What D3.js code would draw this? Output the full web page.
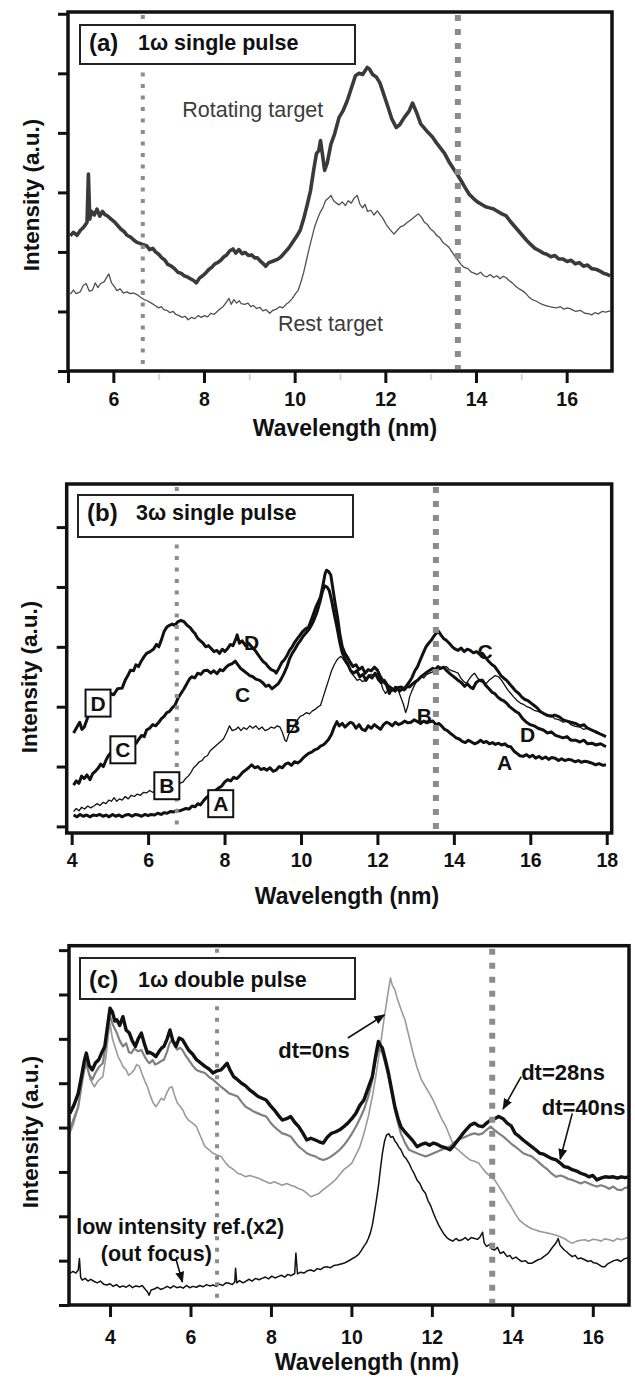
<!DOCTYPE html>
<html><head><meta charset="utf-8">
<script src="https://cdn.jsdelivr.net/npm/d3@7"></script>
<style>
body{margin:0;background:#fff}
svg{display:block}
text{font-family:"Liberation Sans",Arial,Helvetica,sans-serif}
</style></head>
<body><svg id="chart" width="635" height="1378"></svg>
<script>
// ---------- DATA: panel (a) 1ω single pulse ----------
const aXTicks = [5,6,8,10,12,14,16];
const aXMinor = [7,9,11,13,15];
const aYTicks = [0,1,2,3,4,5,6];
const aMarkers = [6.65, 13.6];
const rotatingTarget = [[5.05,2.27],[5.12,2.33],[5.2,2.28],[5.27,2.36],[5.35,2.42],[5.42,2.5],[5.45,3.31],[5.48,2.55],[5.52,2.68],[5.58,2.62],[5.64,2.72],[5.7,2.6],[5.76,2.68],[5.81,2.63],[5.88,2.6],[5.95,2.55],[6.03,2.5],[6.1,2.44],[6.17,2.38],[6.24,2.34],[6.3,2.28],[6.38,2.25],[6.45,2.2],[6.52,2.16],[6.6,2.14],[6.66,2.12],[6.74,2.1],[6.8,2.04],[6.87,2.06],[6.93,2.0],[7.0,1.96],[7.07,1.9],[7.14,1.86],[7.2,1.79],[7.28,1.76],[7.35,1.72],[7.42,1.66],[7.5,1.64],[7.56,1.6],[7.63,1.58],[7.7,1.55],[7.77,1.52],[7.83,1.48],[7.9,1.56],[7.97,1.6],[8.03,1.64],[8.1,1.7],[8.17,1.74],[8.24,1.8],[8.3,1.82],[8.37,1.86],[8.44,1.92],[8.5,1.95],[8.57,2.02],[8.64,2.05],[8.7,1.98],[8.77,2.04],[8.84,1.97],[8.91,1.99],[8.98,1.94],[9.05,1.95],[9.12,1.9],[9.18,1.9],[9.25,1.84],[9.31,1.8],[9.36,1.76],[9.43,1.82],[9.5,1.84],[9.57,1.86],[9.63,1.88],[9.7,1.92],[9.77,1.98],[9.84,2.04],[9.9,2.1],[9.97,2.18],[10.04,2.26],[10.12,2.36],[10.2,2.56],[10.28,2.8],[10.35,3.03],[10.42,3.38],[10.48,3.65],[10.53,3.7],[10.57,3.87],[10.62,3.6],[10.66,3.37],[10.72,3.5],[10.8,3.81],[10.88,3.98],[10.98,4.26],[11.06,4.36],[11.16,4.54],[11.25,4.75],[11.34,4.96],[11.42,5.0],[11.5,4.98],[11.56,5.05],[11.6,5.1],[11.65,5.07],[11.72,4.98],[11.8,4.94],[11.88,4.84],[11.96,4.66],[12.06,4.43],[12.14,4.24],[12.24,4.09],[12.32,4.14],[12.42,4.26],[12.52,4.36],[12.6,4.5],[12.68,4.36],[12.78,4.15],[12.86,4.08],[12.95,4.0],[13.04,3.93],[13.12,3.84],[13.2,3.76],[13.31,3.65],[13.4,3.52],[13.5,3.4],[13.58,3.31],[13.67,3.2],[13.76,3.08],[13.85,2.97],[13.94,2.9],[14.03,2.84],[14.12,2.8],[14.21,2.76],[14.3,2.74],[14.39,2.72],[14.48,2.68],[14.57,2.64],[14.66,2.61],[14.75,2.52],[14.84,2.44],[14.93,2.36],[15.02,2.28],[15.11,2.2],[15.2,2.13],[15.3,2.06],[15.4,2.02],[15.48,1.98],[15.56,1.96],[15.65,1.92],[15.74,1.94],[15.83,1.88],[15.92,1.88],[16.01,1.84],[16.1,1.86],[16.19,1.8],[16.28,1.82],[16.37,1.76],[16.46,1.78],[16.55,1.72],[16.64,1.71],[16.73,1.68],[16.82,1.64],[16.9,1.62],[16.96,1.6]];
const restTarget = [[5.05,1.29],[5.12,1.36],[5.18,1.3],[5.27,1.33],[5.34,1.44],[5.4,1.47],[5.47,1.34],[5.54,1.36],[5.6,1.48],[5.66,1.4],[5.72,1.47],[5.8,1.5],[5.86,1.58],[5.9,1.63],[5.96,1.48],[6.02,1.42],[6.08,1.35],[6.15,1.38],[6.22,1.31],[6.3,1.33],[6.37,1.3],[6.45,1.31],[6.53,1.28],[6.6,1.24],[6.68,1.2],[6.75,1.18],[6.84,1.14],[6.92,1.1],[7.0,1.06],[7.06,1.08],[7.11,1.03],[7.18,1.02],[7.25,0.98],[7.32,1.0],[7.38,0.95],[7.45,0.93],[7.52,0.9],[7.58,0.92],[7.65,0.86],[7.72,0.9],[7.8,0.88],[7.87,0.93],[7.94,0.9],[8.01,0.93],[8.08,0.91],[8.15,0.97],[8.22,0.95],[8.28,0.99],[8.35,1.04],[8.42,1.08],[8.5,1.16],[8.55,1.22],[8.6,1.12],[8.66,1.2],[8.72,1.14],[8.78,1.18],[8.82,1.13],[8.9,1.12],[8.97,1.14],[9.03,1.08],[9.09,1.1],[9.16,1.05],[9.23,1.07],[9.3,1.01],[9.37,1.03],[9.45,0.97],[9.52,1.02],[9.6,1.04],[9.67,1.08],[9.74,1.06],[9.81,1.12],[9.88,1.16],[9.95,1.22],[10.02,1.3],[10.08,1.36],[10.14,1.5],[10.2,1.66],[10.26,1.86],[10.32,2.06],[10.38,2.24],[10.44,2.42],[10.5,2.55],[10.56,2.66],[10.62,2.74],[10.68,2.86],[10.74,2.9],[10.8,2.95],[10.86,2.86],[10.92,2.82],[10.98,2.79],[11.05,2.84],[11.12,2.78],[11.18,2.86],[11.25,2.82],[11.31,2.9],[11.38,2.95],[11.44,2.8],[11.5,2.74],[11.55,2.8],[11.61,2.68],[11.68,2.7],[11.75,2.62],[11.82,2.69],[11.88,2.63],[11.95,2.56],[12.02,2.46],[12.1,2.38],[12.19,2.3],[12.26,2.36],[12.33,2.42],[12.4,2.44],[12.46,2.48],[12.53,2.52],[12.6,2.56],[12.66,2.6],[12.73,2.64],[12.8,2.58],[12.86,2.5],[12.93,2.46],[13.0,2.38],[13.06,2.35],[13.13,2.28],[13.2,2.24],[13.27,2.16],[13.34,2.12],[13.4,2.08],[13.47,2.0],[13.54,1.92],[13.6,1.86],[13.67,1.79],[13.74,1.74],[13.82,1.72],[13.9,1.66],[13.97,1.64],[14.03,1.62],[14.1,1.66],[14.17,1.6],[14.24,1.58],[14.31,1.62],[14.39,1.57],[14.46,1.6],[14.53,1.55],[14.6,1.59],[14.66,1.57],[14.73,1.52],[14.8,1.48],[14.88,1.42],[14.95,1.38],[15.02,1.35],[15.1,1.3],[15.17,1.24],[15.24,1.2],[15.31,1.18],[15.38,1.15],[15.46,1.12],[15.54,1.1],[15.62,1.08],[15.7,1.07],[15.78,1.06],[15.86,1.08],[15.94,1.04],[16.02,1.06],[16.1,1.04],[16.2,1.0],[16.3,1.02],[16.4,0.97],[16.5,0.96],[16.55,0.94],[16.62,0.98],[16.7,0.96],[16.78,1.0],[16.86,0.99],[16.96,1.01]];

// ---------- DATA: panel (b) 3ω single pulse ----------
const bXTicks = [4,6,8,10,12,14,16,18];
const bYTicks = [0,1,2,3,4,5];
const bMarkers = [6.75, 13.53];
const curveD = [[4.05,1.56],[4.12,1.64],[4.21,1.74],[4.27,1.62],[4.33,1.66],[4.42,1.82],[4.5,1.92],[4.6,1.98],[4.7,2.06],[4.8,2.1],[4.9,2.16],[5.01,2.22],[5.1,2.2],[5.2,2.3],[5.32,2.31],[5.4,2.44],[5.47,2.52],[5.54,2.61],[5.62,2.6],[5.68,2.7],[5.75,2.67],[5.82,2.76],[5.9,2.84],[5.96,2.89],[6.05,2.92],[6.14,2.96],[6.22,3.04],[6.28,3.0],[6.35,3.12],[6.42,3.26],[6.49,3.33],[6.56,3.36],[6.63,3.38],[6.7,3.36],[6.78,3.42],[6.86,3.44],[6.94,3.42],[7.02,3.36],[7.1,3.32],[7.17,3.26],[7.23,3.22],[7.3,3.14],[7.37,3.1],[7.44,3.06],[7.51,3.0],[7.58,3.02],[7.65,2.97],[7.72,2.92],[7.8,2.94],[7.87,2.89],[7.94,2.96],[8.01,2.92],[8.08,2.97],[8.15,3.04],[8.22,3.02],[8.29,3.12],[8.33,3.2],[8.39,3.06],[8.46,3.1],[8.55,3.02],[8.63,3.06],[8.71,3.0],[8.8,2.94],[8.92,2.83],[9.0,2.76],[9.08,2.72],[9.14,2.67],[9.22,2.62],[9.3,2.6],[9.35,2.56],[9.42,2.64],[9.5,2.74],[9.56,2.78],[9.64,2.86],[9.7,2.94],[9.77,3.0],[9.84,3.08],[9.91,3.14],[9.98,3.2],[10.05,3.26],[10.12,3.3],[10.2,3.33],[10.3,3.5],[10.4,3.68],[10.51,3.83],[10.58,4.05],[10.63,4.22],[10.67,4.28],[10.72,4.26],[10.78,4.2],[10.84,3.95],[10.9,3.7],[10.96,3.48],[11.02,3.2],[11.08,3.0],[11.15,2.89],[11.22,2.82],[11.29,2.74],[11.36,2.67],[11.44,2.7],[11.52,2.62],[11.6,2.66],[11.68,2.56],[11.76,2.62],[11.84,2.6],[11.92,2.66],[12.0,2.61],[12.08,2.5],[12.16,2.42],[12.24,2.36],[12.31,2.22],[12.38,2.3],[12.46,2.26],[12.55,2.32],[12.63,2.33],[12.7,2.28],[12.78,2.34],[12.84,2.33],[12.92,2.38],[13.0,2.42],[13.05,2.44],[13.14,2.5],[13.22,2.54],[13.3,2.58],[13.37,2.61],[13.45,2.64],[13.52,2.62],[13.58,2.67],[13.66,2.64],[13.73,2.66],[13.8,2.61],[13.88,2.56],[13.96,2.52],[14.04,2.48],[14.11,2.44],[14.2,2.4],[14.28,2.34],[14.36,2.38],[14.43,2.33],[14.5,2.3],[14.58,2.4],[14.66,2.44],[14.75,2.44],[14.83,2.36],[14.92,2.3],[15.0,2.24],[15.07,2.22],[15.15,2.16],[15.23,2.12],[15.3,2.1],[15.38,2.06],[15.46,2.0],[15.54,1.96],[15.62,1.92],[15.7,1.89],[15.8,1.8],[15.9,1.74],[16.0,1.7],[16.1,1.68],[16.2,1.64],[16.34,1.61],[16.45,1.56],[16.55,1.58],[16.66,1.52],[16.76,1.5],[16.86,1.48],[16.96,1.5],[17.06,1.44],[17.18,1.44],[17.3,1.41],[17.4,1.44],[17.5,1.38],[17.61,1.39],[17.72,1.36],[17.84,1.38],[17.98,1.33]];
const curveC = [[4.05,0.69],[4.12,0.76],[4.19,0.72],[4.26,0.84],[4.33,0.8],[4.4,0.86],[4.48,0.78],[4.55,0.88],[4.62,0.92],[4.69,0.97],[4.76,1.04],[4.83,1.0],[4.9,1.11],[4.96,1.18],[5.01,1.22],[5.1,1.26],[5.2,1.3],[5.3,1.28],[5.4,1.34],[5.5,1.36],[5.6,1.36],[5.69,1.39],[5.76,1.46],[5.83,1.52],[5.9,1.5],[5.96,1.61],[6.04,1.64],[6.12,1.7],[6.2,1.68],[6.28,1.74],[6.35,1.8],[6.42,1.84],[6.49,1.9],[6.56,1.92],[6.63,1.98],[6.7,2.02],[6.78,2.14],[6.86,2.22],[6.94,2.3],[7.02,2.39],[7.08,2.46],[7.14,2.5],[7.22,2.48],[7.3,2.56],[7.38,2.54],[7.46,2.6],[7.55,2.61],[7.64,2.56],[7.72,2.6],[7.8,2.55],[7.88,2.62],[7.96,2.6],[8.04,2.66],[8.12,2.7],[8.2,2.72],[8.28,2.76],[8.35,2.7],[8.42,2.64],[8.5,2.6],[8.58,2.56],[8.66,2.52],[8.74,2.5],[8.82,2.46],[8.92,2.44],[9.0,2.4],[9.08,2.34],[9.16,2.36],[9.24,2.3],[9.32,2.34],[9.4,2.38],[9.48,2.46],[9.56,2.56],[9.64,2.68],[9.7,2.8],[9.77,2.89],[9.84,2.96],[9.91,3.04],[9.98,3.1],[10.06,3.18],[10.14,3.24],[10.22,3.3],[10.32,3.42],[10.42,3.58],[10.5,3.76],[10.56,3.92],[10.62,4.02],[10.68,4.0],[10.74,3.94],[10.8,3.78],[10.86,3.58],[10.94,3.33],[11.02,3.06],[11.08,2.9],[11.15,2.8],[11.22,2.72],[11.3,2.6],[11.38,2.56],[11.46,2.6],[11.54,2.5],[11.62,2.54],[11.7,2.44],[11.78,2.52],[11.86,2.48],[11.94,2.56],[12.02,2.46],[12.1,2.4],[12.18,2.44],[12.26,2.36],[12.34,2.32],[12.42,2.28],[12.5,2.32],[12.58,2.26],[12.66,2.3],[12.74,2.33],[12.82,2.4],[12.9,2.48],[12.98,2.6],[13.05,2.67],[13.12,2.78],[13.2,2.9],[13.27,3.0],[13.34,3.06],[13.42,3.12],[13.48,3.18],[13.53,3.22],[13.6,3.26],[13.66,3.2],[13.73,3.14],[13.8,3.11],[13.88,3.06],[13.96,3.0],[14.04,2.96],[14.11,2.94],[14.19,2.98],[14.27,2.92],[14.35,2.96],[14.43,2.94],[14.51,2.9],[14.59,2.92],[14.67,2.88],[14.75,2.89],[14.83,2.82],[14.91,2.76],[15.0,2.7],[15.07,2.67],[15.15,2.6],[15.23,2.52],[15.3,2.48],[15.38,2.44],[15.46,2.38],[15.54,2.32],[15.62,2.26],[15.7,2.22],[15.78,2.16],[15.86,2.12],[15.94,2.1],[16.02,2.06],[16.1,2.02],[16.18,1.98],[16.26,1.92],[16.34,1.89],[16.44,1.86],[16.54,1.84],[16.64,1.86],[16.76,1.83],[16.86,1.78],[16.96,1.76],[17.06,1.74],[17.18,1.72],[17.3,1.68],[17.4,1.7],[17.5,1.64],[17.61,1.61],[17.72,1.58],[17.84,1.54],[17.98,1.5]];
const curveB = [[4.05,0.25],[4.12,0.3],[4.19,0.26],[4.26,0.32],[4.34,0.29],[4.42,0.34],[4.5,0.31],[4.58,0.34],[4.66,0.38],[4.74,0.35],[4.82,0.4],[4.9,0.38],[4.97,0.44],[5.04,0.42],[5.11,0.48],[5.18,0.42],[5.25,0.46],[5.32,0.44],[5.4,0.5],[5.48,0.46],[5.56,0.52],[5.64,0.5],[5.72,0.54],[5.8,0.52],[5.88,0.57],[5.96,0.56],[6.04,0.6],[6.12,0.57],[6.22,0.6],[6.32,0.62],[6.42,0.64],[6.52,0.66],[6.62,0.68],[6.72,0.7],[6.82,0.72],[6.91,0.74],[6.98,0.8],[7.05,0.84],[7.12,0.9],[7.19,0.98],[7.26,1.02],[7.34,1.08],[7.41,1.1],[7.48,1.16],[7.55,1.18],[7.62,1.26],[7.69,1.3],[7.76,1.34],[7.83,1.38],[7.9,1.42],[7.97,1.46],[8.05,1.56],[8.13,1.68],[8.2,1.6],[8.29,1.62],[8.36,1.66],[8.43,1.6],[8.5,1.65],[8.58,1.62],[8.66,1.68],[8.74,1.64],[8.82,1.68],[8.9,1.62],[8.98,1.66],[9.06,1.6],[9.14,1.62],[9.22,1.66],[9.3,1.64],[9.38,1.68],[9.45,1.66],[9.52,1.56],[9.58,1.44],[9.62,1.42],[9.68,1.54],[9.77,1.62],[9.84,1.7],[9.91,1.78],[9.98,1.84],[10.06,1.86],[10.14,1.9],[10.22,1.88],[10.3,1.93],[10.38,1.96],[10.45,2.0],[10.51,2.02],[10.58,2.16],[10.65,2.3],[10.72,2.44],[10.8,2.6],[10.87,2.7],[10.94,2.78],[11.0,2.82],[11.04,2.84],[11.1,2.8],[11.18,2.72],[11.25,2.66],[11.32,2.56],[11.4,2.5],[11.47,2.44],[11.54,2.46],[11.61,2.42],[11.68,2.44],[11.76,2.5],[11.84,2.54],[11.92,2.52],[12.0,2.56],[12.07,2.46],[12.14,2.3],[12.21,2.22],[12.3,2.3],[12.38,2.26],[12.46,2.34],[12.52,2.32],[12.6,2.18],[12.68,2.04],[12.74,1.9],[12.8,2.02],[12.84,2.16],[12.9,2.26],[12.97,2.36],[13.05,2.44],[13.13,2.5],[13.21,2.48],[13.29,2.54],[13.37,2.56],[13.45,2.58],[13.52,2.62],[13.58,2.6],[13.66,2.64],[13.73,2.66],[13.8,2.67],[13.88,2.62],[13.96,2.6],[14.04,2.58],[14.11,2.56],[14.18,2.48],[14.26,2.42],[14.33,2.39],[14.4,2.46],[14.47,2.52],[14.54,2.56],[14.62,2.48],[14.7,2.42],[14.78,2.4],[14.85,2.39],[14.92,2.44],[15.0,2.48],[15.08,2.52],[15.17,2.5],[15.25,2.44],[15.33,2.36],[15.41,2.28],[15.49,2.22],[15.57,2.16],[15.66,2.1],[15.74,2.06],[15.82,2.04],[15.91,2.0],[16.0,1.98],[16.1,1.94],[16.2,1.92],[16.34,1.89],[16.44,1.84],[16.54,1.86],[16.64,1.8],[16.76,1.78],[16.86,1.74],[16.96,1.76],[17.06,1.7],[17.18,1.67],[17.3,1.66],[17.4,1.62],[17.5,1.64],[17.61,1.61],[17.72,1.56],[17.84,1.54],[17.98,1.5]];
const curveA = [[4.05,0.19],[4.14,0.16],[4.22,0.2],[4.3,0.17],[4.39,0.19],[4.48,0.16],[4.56,0.19],[4.65,0.18],[4.73,0.2],[4.82,0.17],[4.9,0.19],[4.98,0.16],[5.07,0.2],[5.15,0.17],[5.24,0.19],[5.32,0.16],[5.41,0.19],[5.49,0.2],[5.58,0.17],[5.66,0.2],[5.75,0.19],[5.83,0.17],[5.92,0.2],[6.0,0.18],[6.08,0.2],[6.17,0.19],[6.25,0.22],[6.34,0.2],[6.42,0.23],[6.5,0.22],[6.59,0.25],[6.67,0.24],[6.75,0.27],[6.83,0.26],[6.91,0.28],[6.99,0.3],[7.07,0.29],[7.15,0.34],[7.23,0.33],[7.3,0.38],[7.37,0.36],[7.44,0.42],[7.52,0.48],[7.6,0.52],[7.68,0.56],[7.76,0.6],[7.84,0.64],[7.92,0.67],[8.0,0.74],[8.08,0.78],[8.16,0.76],[8.24,0.82],[8.32,0.8],[8.39,0.84],[8.47,0.9],[8.55,0.94],[8.63,0.98],[8.71,1.03],[8.79,0.98],[8.87,1.0],[8.95,0.95],[9.03,0.97],[9.11,0.94],[9.19,0.98],[9.27,0.92],[9.35,0.94],[9.43,1.0],[9.51,0.98],[9.59,1.04],[9.67,1.06],[9.75,1.02],[9.83,1.08],[9.91,1.06],[9.98,1.09],[10.05,1.14],[10.12,1.18],[10.2,1.22],[10.28,1.24],[10.36,1.28],[10.44,1.3],[10.51,1.34],[10.58,1.36],[10.65,1.4],[10.72,1.45],[10.8,1.54],[10.87,1.66],[10.94,1.75],[11.0,1.68],[11.08,1.72],[11.15,1.66],[11.22,1.7],[11.29,1.74],[11.36,1.72],[11.44,1.64],[11.52,1.7],[11.6,1.62],[11.68,1.6],[11.76,1.68],[11.84,1.64],[11.92,1.7],[12.0,1.66],[12.08,1.62],[12.16,1.7],[12.24,1.74],[12.31,1.72],[12.39,1.68],[12.47,1.74],[12.55,1.7],[12.63,1.72],[12.71,1.76],[12.8,1.73],[12.88,1.74],[12.96,1.78],[13.05,1.75],[13.13,1.72],[13.21,1.76],[13.29,1.73],[13.37,1.75],[13.45,1.76],[13.53,1.7],[13.61,1.72],[13.69,1.67],[13.76,1.62],[13.83,1.6],[13.9,1.56],[13.98,1.52],[14.06,1.48],[14.14,1.46],[14.22,1.42],[14.3,1.4],[14.38,1.44],[14.46,1.41],[14.54,1.38],[14.62,1.4],[14.7,1.44],[14.78,1.4],[14.85,1.42],[14.93,1.38],[15.01,1.4],[15.09,1.37],[15.17,1.39],[15.25,1.36],[15.33,1.38],[15.41,1.34],[15.49,1.33],[15.57,1.26],[15.65,1.22],[15.73,1.18],[15.81,1.17],[15.9,1.2],[15.98,1.16],[16.06,1.19],[16.14,1.14],[16.23,1.17],[16.31,1.13],[16.4,1.16],[16.48,1.12],[16.56,1.15],[16.65,1.14],[16.74,1.1],[16.82,1.13],[16.9,1.1],[17.0,1.12],[17.08,1.11],[17.17,1.08],[17.26,1.1],[17.34,1.07],[17.42,1.09],[17.5,1.08],[17.6,1.06],[17.71,1.03],[17.8,1.05],[17.9,1.02],[17.98,1.03]];
// label letters: [text, x, y, boxed]
const bLabels = [["D",4.69,2.06,true],["C",5.34,1.28,true],["B",6.49,0.68,true],["A",7.9,0.38,true],["D",8.71,3.08,false],["C",8.47,2.21,false],["B",9.79,1.68,false],["C",14.82,2.92,false],["B",13.23,1.85,false],["D",15.93,1.54,false],["A",15.33,1.07,false]];

// ---------- DATA: panel (c) 1ω double pulse ----------
const cXTicks = [4,6,8,10,12,14,16];
const cYTicks = [0,1,2,3,4,5,6,7,8];
const cMarkers = [6.66, 13.5];
const dt28 = [[3.0,4.32],[3.1,4.5],[3.21,4.77],[3.3,5.2],[3.36,5.5],[3.41,5.68],[3.48,5.4],[3.56,5.3],[3.64,5.46],[3.72,5.53],[3.8,5.7],[3.87,5.83],[3.94,6.3],[4.0,6.69],[4.06,6.6],[4.12,6.4],[4.17,6.43],[4.24,6.3],[4.32,6.5],[4.4,6.2],[4.48,6.13],[4.55,5.96],[4.63,5.83],[4.7,6.0],[4.78,6.13],[4.85,5.9],[4.93,5.68],[4.98,5.7],[5.06,5.66],[5.14,5.6],[5.22,5.72],[5.29,5.8],[5.34,5.83],[5.42,6.0],[5.49,6.2],[5.56,5.96],[5.64,5.83],[5.72,6.02],[5.8,5.98],[5.88,5.86],[5.95,5.75],[6.05,5.66],[6.15,5.53],[6.25,5.46],[6.36,5.38],[6.46,5.32],[6.56,5.23],[6.66,5.28],[6.76,5.3],[6.84,5.38],[6.91,5.45],[6.98,5.3],[7.07,5.15],[7.17,5.08],[7.27,5.0],[7.37,4.94],[7.47,4.85],[7.57,4.78],[7.68,4.7],[7.78,4.66],[7.88,4.62],[7.98,4.5],[8.08,4.4],[8.18,4.28],[8.28,4.17],[8.39,4.2],[8.49,4.25],[8.59,4.12],[8.69,4.02],[8.79,3.88],[8.89,3.72],[8.99,3.76],[9.1,3.72],[9.2,3.68],[9.3,3.65],[9.4,3.78],[9.5,3.87],[9.6,3.9],[9.71,3.95],[9.81,4.02],[9.91,4.1],[10.01,4.2],[10.11,4.32],[10.21,4.5],[10.31,4.62],[10.42,4.9],[10.52,5.15],[10.6,5.6],[10.67,5.94],[10.72,5.86],[10.77,5.79],[10.85,5.5],[10.92,5.23],[11.0,4.85],[11.08,4.47],[11.16,4.2],[11.23,4.02],[11.33,3.9],[11.43,3.8],[11.53,3.7],[11.63,3.57],[11.74,3.62],[11.84,3.65],[11.94,3.6],[12.04,3.65],[12.14,3.62],[12.24,3.57],[12.35,3.54],[12.45,3.5],[12.55,3.6],[12.65,3.72],[12.75,3.84],[12.85,3.95],[12.95,4.05],[13.06,4.1],[13.16,4.04],[13.26,4.02],[13.36,4.1],[13.46,4.17],[13.56,4.2],[13.66,4.25],[13.77,4.2],[13.87,4.1],[13.97,4.04],[14.07,3.87],[14.17,3.8],[14.27,3.72],[14.38,3.64],[14.48,3.57],[14.58,3.5],[14.68,3.42],[14.78,3.4],[14.88,3.35],[14.98,3.3],[15.09,3.27],[15.19,3.2],[15.29,3.12],[15.39,3.1],[15.49,3.05],[15.6,3.02],[15.7,2.97],[15.8,2.94],[15.9,2.89],[16.0,2.92],[16.1,2.82],[16.2,2.86],[16.3,2.89],[16.41,2.88],[16.51,2.89],[16.61,2.86],[16.71,2.89],[16.8,2.87],[16.9,2.89]];
const dt40 = [[3.0,3.95],[3.1,4.2],[3.21,4.47],[3.3,5.0],[3.36,5.3],[3.41,5.45],[3.48,5.2],[3.56,5.08],[3.64,5.24],[3.72,5.36],[3.82,5.45],[3.9,5.9],[3.95,6.3],[4.0,6.5],[4.08,6.3],[4.17,6.13],[4.24,5.96],[4.32,5.83],[4.4,5.9],[4.47,5.7],[4.53,5.68],[4.6,5.78],[4.7,5.72],[4.78,5.75],[4.86,5.6],[4.93,5.5],[4.98,5.45],[5.06,5.52],[5.12,5.42],[5.19,5.45],[5.27,5.5],[5.34,5.53],[5.42,5.72],[5.48,5.9],[5.54,5.98],[5.6,5.85],[5.67,5.76],[5.74,5.8],[5.8,5.75],[5.88,5.62],[5.95,5.53],[6.05,5.4],[6.15,5.3],[6.25,5.26],[6.36,5.23],[6.46,5.14],[6.56,5.08],[6.66,5.0],[6.76,4.92],[6.86,4.85],[6.96,4.77],[7.06,4.74],[7.17,4.7],[7.27,4.58],[7.37,4.47],[7.47,4.42],[7.57,4.36],[7.68,4.32],[7.78,4.28],[7.88,4.25],[7.98,4.12],[8.08,4.02],[8.18,3.94],[8.28,3.87],[8.39,3.84],[8.49,3.8],[8.59,3.68],[8.69,3.57],[8.79,3.5],[8.89,3.42],[8.99,3.38],[9.1,3.35],[9.2,3.3],[9.3,3.27],[9.4,3.3],[9.5,3.35],[9.6,3.42],[9.71,3.5],[9.81,3.6],[9.91,3.72],[10.01,3.86],[10.11,4.02],[10.21,4.2],[10.31,4.4],[10.42,4.7],[10.52,5.08],[10.6,5.5],[10.67,5.79],[10.72,5.74],[10.77,5.68],[10.85,5.42],[10.92,5.15],[11.0,4.78],[11.08,4.4],[11.16,4.1],[11.23,3.87],[11.33,3.66],[11.43,3.5],[11.53,3.46],[11.63,3.42],[11.74,3.38],[11.84,3.35],[11.94,3.38],[12.04,3.42],[12.14,3.46],[12.24,3.5],[12.35,3.54],[12.45,3.57],[12.55,3.66],[12.65,3.72],[12.75,3.76],[12.85,3.8],[12.95,3.84],[13.06,3.87],[13.16,3.84],[13.26,3.87],[13.36,3.95],[13.46,4.02],[13.56,3.94],[13.66,3.87],[13.77,3.8],[13.87,3.72],[13.97,3.64],[14.07,3.57],[14.17,3.5],[14.27,3.42],[14.38,3.38],[14.48,3.35],[14.58,3.28],[14.68,3.2],[14.78,3.12],[14.88,3.05],[14.98,2.96],[15.09,2.89],[15.19,2.92],[15.29,2.89],[15.39,2.84],[15.49,2.82],[15.6,2.78],[15.7,2.74],[15.8,2.78],[15.9,2.74],[16.0,2.7],[16.1,2.67],[16.2,2.7],[16.3,2.67],[16.41,2.62],[16.51,2.67],[16.61,2.6],[16.71,2.59],[16.8,2.64],[16.9,2.66]];
const dt0 = [[3.0,3.87],[3.1,4.1],[3.21,4.47],[3.3,5.1],[3.36,5.4],[3.41,5.53],[3.5,5.1],[3.61,4.92],[3.7,5.05],[3.82,5.15],[3.9,5.6],[3.96,6.1],[4.0,6.35],[4.06,6.0],[4.12,5.83],[4.2,5.6],[4.26,5.5],[4.32,5.38],[4.4,5.3],[4.46,5.18],[4.53,5.23],[4.6,5.3],[4.66,5.42],[4.73,5.38],[4.8,5.2],[4.86,5.06],[4.93,4.92],[5.0,4.72],[5.07,4.56],[5.14,4.47],[5.2,4.55],[5.27,4.66],[5.34,4.62],[5.42,4.8],[5.48,4.9],[5.54,4.92],[5.6,4.74],[5.67,4.56],[5.75,4.47],[5.82,4.38],[5.88,4.25],[5.95,4.17],[6.05,4.1],[6.15,4.02],[6.25,3.8],[6.36,3.57],[6.46,3.5],[6.56,3.42],[6.66,3.38],[6.76,3.35],[6.86,3.22],[6.96,3.12],[7.06,3.06],[7.17,2.97],[7.27,2.94],[7.37,2.89],[7.47,2.92],[7.57,2.89],[7.68,2.86],[7.78,2.82],[7.88,2.78],[7.98,2.74],[8.08,2.78],[8.18,2.74],[8.28,2.7],[8.39,2.74],[8.49,2.7],[8.59,2.67],[8.69,2.62],[8.79,2.59],[8.89,2.52],[8.99,2.44],[9.1,2.48],[9.2,2.52],[9.3,2.6],[9.4,2.67],[9.5,2.74],[9.6,2.82],[9.71,2.94],[9.81,3.05],[9.91,3.12],[10.01,3.2],[10.11,3.38],[10.21,3.57],[10.31,3.86],[10.42,4.25],[10.52,4.7],[10.62,5.23],[10.72,5.86],[10.82,6.5],[10.9,6.98],[10.97,7.37],[11.02,7.2],[11.08,7.11],[11.13,6.94],[11.18,6.8],[11.25,6.62],[11.33,6.43],[11.43,6.06],[11.53,5.68],[11.63,5.36],[11.74,5.08],[11.84,4.92],[11.94,4.77],[12.04,4.6],[12.14,4.4],[12.24,4.2],[12.35,4.02],[12.45,3.8],[12.55,3.57],[12.65,3.5],[12.75,3.42],[12.85,3.34],[12.95,3.27],[13.06,3.24],[13.16,3.2],[13.26,3.08],[13.36,2.97],[13.46,2.9],[13.56,2.82],[13.66,2.68],[13.77,2.52],[13.87,2.36],[13.97,2.22],[14.07,2.06],[14.17,1.92],[14.27,1.84],[14.38,1.77],[14.48,1.72],[14.58,1.69],[14.68,1.66],[14.78,1.64],[14.88,1.62],[14.98,1.6],[15.09,1.57],[15.19,1.54],[15.29,1.5],[15.39,1.44],[15.49,1.39],[15.6,1.44],[15.7,1.46],[15.8,1.47],[15.9,1.44],[16.0,1.48],[16.1,1.47],[16.2,1.44],[16.3,1.49],[16.41,1.47],[16.51,1.44],[16.61,1.5],[16.71,1.47],[16.8,1.5],[16.9,1.54]];
const lowRef = [[3.0,0.71],[3.08,0.76],[3.15,0.72],[3.21,0.79],[3.24,1.05],[3.27,0.62],[3.31,0.56],[3.38,0.6],[3.45,0.54],[3.52,0.58],[3.61,0.53],[3.68,0.5],[3.76,0.54],[3.84,0.47],[3.92,0.45],[4.0,0.48],[4.08,0.42],[4.16,0.46],[4.24,0.4],[4.32,0.43],[4.4,0.4],[4.48,0.45],[4.56,0.39],[4.64,0.43],[4.73,0.41],[4.8,0.44],[4.87,0.36],[4.93,0.3],[4.97,0.22],[5.02,0.34],[5.1,0.36],[5.18,0.4],[5.26,0.35],[5.34,0.38],[5.42,0.42],[5.5,0.38],[5.58,0.43],[5.66,0.39],[5.75,0.41],[5.82,0.38],[5.9,0.44],[5.98,0.39],[6.06,0.42],[6.15,0.4],[6.23,0.44],[6.31,0.41],[6.4,0.46],[6.48,0.43],[6.56,0.45],[6.64,0.42],[6.72,0.47],[6.8,0.44],[6.88,0.5],[6.96,0.49],[7.04,0.46],[7.1,0.52],[7.12,0.83],[7.15,0.5],[7.22,0.55],[7.3,0.5],[7.37,0.53],[7.45,0.58],[7.53,0.54],[7.62,0.6],[7.7,0.57],[7.78,0.6],[7.86,0.63],[7.94,0.59],[8.02,0.65],[8.1,0.61],[8.18,0.64],[8.26,0.67],[8.34,0.63],[8.42,0.69],[8.5,0.66],[8.59,0.71],[8.62,1.17],[8.66,0.7],[8.74,0.74],[8.82,0.72],[8.9,0.77],[8.99,0.79],[9.07,0.76],[9.15,0.82],[9.23,0.8],[9.31,0.85],[9.4,0.86],[9.48,0.84],[9.56,0.89],[9.64,0.9],[9.72,0.92],[9.81,0.94],[9.9,0.98],[9.98,1.02],[10.05,1.06],[10.11,1.09],[10.18,1.14],[10.24,1.22],[10.31,1.32],[10.37,1.4],[10.42,1.5],[10.47,1.62],[10.52,1.8],[10.57,2.07],[10.62,2.36],[10.67,2.67],[10.72,3.06],[10.77,3.42],[10.82,3.68],[10.87,3.83],[10.93,3.86],[10.98,3.78],[11.03,3.8],[11.08,3.7],[11.13,3.64],[11.18,3.56],[11.23,3.5],[11.3,3.36],[11.36,3.3],[11.43,3.2],[11.5,3.06],[11.56,2.96],[11.63,2.82],[11.7,2.74],[11.77,2.6],[11.84,2.52],[11.9,2.36],[11.97,2.24],[12.04,2.07],[12.1,1.94],[12.17,1.8],[12.24,1.69],[12.3,1.6],[12.37,1.52],[12.45,1.47],[12.52,1.44],[12.6,1.5],[12.67,1.45],[12.75,1.47],[12.83,1.52],[12.9,1.46],[12.98,1.52],[13.06,1.5],[13.14,1.48],[13.2,1.54],[13.26,1.64],[13.3,1.4],[13.36,1.32],[13.43,1.36],[13.49,1.26],[13.56,1.24],[13.63,1.3],[13.7,1.16],[13.78,1.2],[13.87,1.09],[13.94,1.12],[14.0,1.04],[14.09,1.08],[14.17,1.02],[14.24,0.98],[14.32,1.0],[14.4,0.94],[14.48,0.94],[14.56,0.98],[14.64,1.02],[14.71,1.04],[14.78,1.09],[14.86,1.14],[14.92,1.2],[14.98,1.28],[15.05,1.36],[15.1,1.42],[15.14,1.5],[15.18,1.36],[15.23,1.3],[15.29,1.24],[15.35,1.2],[15.42,1.14],[15.49,1.09],[15.56,1.12],[15.63,1.04],[15.7,1.06],[15.8,1.02],[15.88,0.98],[15.95,1.0],[16.02,0.95],[16.1,0.94],[16.17,0.9],[16.24,0.86],[16.3,0.86],[16.36,0.92],[16.44,0.96],[16.52,1.0],[16.61,1.02],[16.7,0.98],[16.78,1.04],[16.86,1.06],[16.9,1.09]];
// annotations: [text, x, y]  and arrows: [x1,y1,x2,y2]
const cTexts = [["dt=0ns",8.18,5.75],["dt=28ns",14.22,5.26],["dt=40ns",14.73,4.47],["low intensity ref.(x2)",3.16,1.77],["(out focus)",3.77,1.17]];
const cArrows = [[9.91,6.02,10.82,6.54],[14.22,5.15,13.77,4.42],[15.49,4.32,15.19,3.29],[5.64,1.03,5.8,0.52]];

// ---------- DRAWING ----------
const svg = d3.select('#chart');
const defs = svg.append('defs');
defs.append('marker').attr('id','arrowhead').attr('viewBox','0 0 10 10').attr('refX',9).attr('refY',5)
  .attr('markerWidth',7).attr('markerHeight',7).attr('orient','auto-start-reverse')
  .append('path').attr('d','M0,1 L10,5 L0,9 Z').attr('fill','#111');

function drawPanel(cfg){
  const x = d3.scaleLinear().domain(cfg.xDomain).range([cfg.l, cfg.r]);
  const y = d3.scaleLinear().domain(cfg.yDomain).range([cfg.b, cfg.t]);
  const g = svg.append('g');
  const clipId = 'clip-' + cfg.id;
  defs.append('clipPath').attr('id', clipId).append('rect')
    .attr('x', cfg.l).attr('y', cfg.t).attr('width', cfg.r - cfg.l).attr('height', cfg.b - cfg.t);

  const line = d3.line().x(d => x(d[0])).y(d => y(d[1]));
  cfg.series.forEach(s => {
    g.append('path').attr('d', line(s.data)).attr('fill','none')
      .attr('stroke', s.color).attr('stroke-width', s.width)
      .attr('stroke-linejoin','round').attr('clip-path', `url(#${clipId})`);
  });

  // dotted reference lines
  cfg.markers.forEach((m, i) => {
    const st = i === 0 ? {w:4, dash:'4,7.5'} : {w:6, dash:'6,8'};
    g.append('line').attr('x1', x(m)).attr('x2', x(m)).attr('y1', cfg.t + 3).attr('y2', cfg.b - 2)
      .attr('stroke','#8c8c8c').attr('stroke-width', st.w).attr('stroke-dasharray', st.dash);
  });

  // arrows
  (cfg.arrows || []).forEach(a => {
    g.append('line').attr('x1', x(a[0])).attr('y1', y(a[1])).attr('x2', x(a[2])).attr('y2', y(a[3]))
      .attr('stroke','#111').attr('stroke-width',1.6).attr('marker-end','url(#arrowhead)');
  });

  // text annotations
  (cfg.texts || []).forEach(t => {
    g.append('text').attr('x', x(t[1])).attr('y', y(t[2])).attr('dy','0.36em')
      .attr('font-size', t[0].length > 10 ? 21.5 : 22).attr('font-weight', cfg.textWeight || 'bold')
      .attr('fill', cfg.textColor || '#111').text(t[0]);
  });

  // letter labels (panel b)
  (cfg.letters || []).forEach(t => {
    const cx = x(t[1]), cy = y(t[2]);
    if (t[3]) {
      g.append('rect').attr('x', cx - 12.5).attr('y', cy - 13.5).attr('width', 25).attr('height', 27)
        .attr('fill','#fff').attr('stroke','#111').attr('stroke-width',2);
    }
    g.append('text').attr('x', cx).attr('y', cy).attr('dy','0.36em').attr('text-anchor','middle')
      .attr('font-size', 21).attr('font-weight','bold').attr('fill','#111').text(t[0]);
  });

  // title box
  const tb = cfg.titleBox;
  g.append('rect').attr('x', tb.x).attr('y', tb.y).attr('width', tb.w).attr('height', tb.h)
    .attr('fill','#fff').attr('stroke','#222').attr('stroke-width',2);
  g.append('text').attr('x', tb.x + 9).attr('y', tb.base).attr('font-size',24).attr('font-weight','bold')
    .attr('fill','#111').text(tb.tag);
  g.append('text').attr('x', tb.x + 58).attr('y', tb.base - 1).attr('font-size',21.5).attr('font-weight','bold')
    .attr('fill','#111').text(tb.title);

  // axes
  const xAxis = d3.axisBottom(x).tickValues(cfg.xTicks).tickSize(12)
    .tickFormat(d => cfg.xLabelled.includes(d) ? d3.format('d')(d) : '');
  const gx = g.append('g').attr('transform', `translate(0,${cfg.b})`).call(xAxis);
  gx.select('.domain').remove();
  gx.selectAll('.tick line').attr('stroke','#111').attr('stroke-width',3);
  gx.selectAll('.tick text').attr('y', cfg.tickLabelOffset).attr('dy', 0)
    .attr('font-size',19.5).attr('font-weight','bold').attr('fill','#111')
    .attr('font-family','"Liberation Sans",Arial,Helvetica,sans-serif');

  if (cfg.xMinor) {
    const gm = g.append('g').attr('transform', `translate(0,${cfg.b})`)
      .call(d3.axisBottom(x).tickValues(cfg.xMinor).tickSize(6).tickFormat(''));
    gm.select('.domain').remove();
    gm.selectAll('.tick line').attr('stroke','#d4d4d4').attr('stroke-width',2).attr('y1',3).attr('y2',9);
  }

  const yAxis = d3.axisLeft(y).tickValues(cfg.yTicks).tickSize(10).tickFormat('');
  const gy = g.append('g').attr('transform', `translate(${cfg.l},0)`).call(yAxis);
  gy.select('.domain').remove();
  gy.selectAll('.tick line').attr('stroke','#111').attr('stroke-width',3);

  // frame
  g.append('rect').attr('x', cfg.l).attr('y', cfg.t).attr('width', cfg.r - cfg.l).attr('height', cfg.b - cfg.t)
    .attr('fill','none').attr('stroke','#111').attr('stroke-width',3.5);

  // axis titles
  g.append('text').attr('x', cfg.xTitle[0]).attr('y', cfg.xTitle[1]).attr('text-anchor','middle')
    .attr('font-size',23).attr('font-weight','bold').attr('fill','#111').text('Wavelength (nm)');
  g.append('text').attr('transform', `translate(${cfg.yTitle[0]},${cfg.yTitle[1]}) rotate(-90)`)
    .attr('text-anchor','middle').attr('font-size',22.5).attr('font-weight','bold').attr('fill','#111')
    .text('Intensity (a.u.)');
}

drawPanel({
  id:'a', l:68, r:612, t:12, b:371, xDomain:[5,17], yDomain:[0,6.03],
  xTicks:aXTicks, xLabelled:[6,8,10,12,14,16], xMinor:aXMinor, yTicks:aYTicks, markers:aMarkers,
  tickLabelOffset:35, xTitle:[345,436], yTitle:[39,195],
  series:[{data:rotatingTarget, color:'#3a3a3a', width:3.6},{data:restTarget, color:'#505050', width:1.3}],
  texts:[["Rotating target",7.52,4.4],["Rest target",9.63,0.81]], textWeight:'normal', textColor:'#3c3c3c',
  titleBox:{x:80, y:25, w:275, h:39, base:51, tag:'(a)', title:'1ω single pulse'}
});

drawPanel({
  id:'b', l:66.7, r:611.7, t:484, b:833, xDomain:[3.87,18.13], yDomain:[-0.11,5.72],
  xTicks:bXTicks, xLabelled:bXTicks, yTicks:bYTicks, markers:bMarkers,
  tickLabelOffset:34, xTitle:[347,904], yTitle:[37,677],
  series:[{data:curveA, color:'#111', width:3},{data:curveB, color:'#111', width:1.3},
          {data:curveC, color:'#111', width:3},{data:curveD, color:'#111', width:3}],
  letters:bLabels,
  titleBox:{x:78, y:495, w:275, h:42, base:521, tag:'(b)', title:'3ω single pulse'}
});

drawPanel({
  id:'c', l:69, r:629, t:945.7, b:1305, xDomain:[2.98,16.9], yDomain:[0,8.1],
  xTicks:cXTicks, xLabelled:cXTicks, yTicks:cYTicks, markers:cMarkers,
  tickLabelOffset:39, xTitle:[367,1370], yTitle:[38,1132],
  series:[{data:lowRef, color:'#111', width:1.5},{data:dt0, color:'#9a9a9a', width:1.6},
          {data:dt40, color:'#808080', width:2.2},{data:dt28, color:'#111', width:3.4}],
  texts:cTexts, arrows:cArrows,
  titleBox:{x:80, y:958, w:275, h:41, base:988, tag:'(c)', title:'1ω double pulse'}
});
</script>
</body></html>
